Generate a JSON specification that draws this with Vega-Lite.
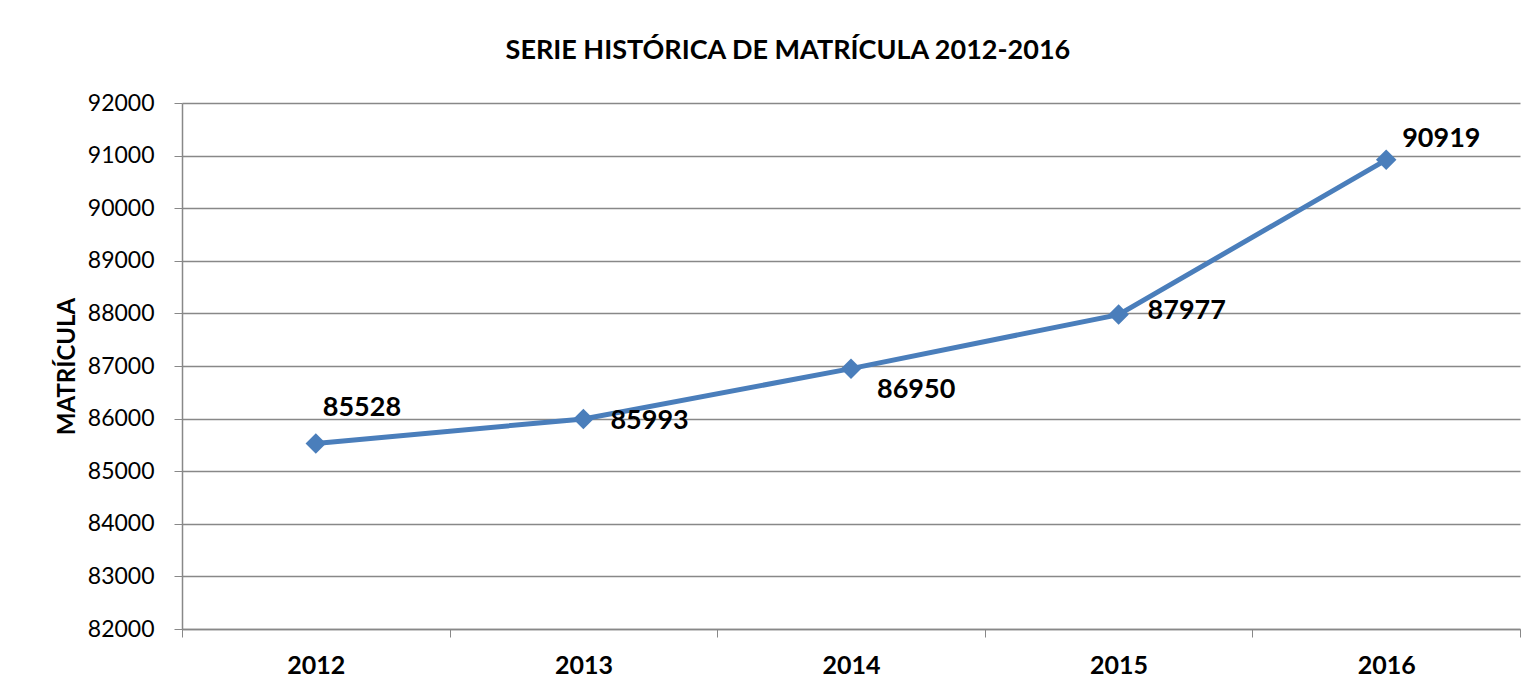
{
  "$schema": "https://vega.github.io/schema/vega-lite/v6.json",
  "autosize": {"type": "none"},
  "width": 1338,
  "height": 526,
  "padding": {"left": 182, "top": 103, "right": 8, "bottom": 66},
  "background": "white",
  "config": {
    "font": "Lato",
    "view": {"stroke": null},
    "axis": {"labelFont": "Lato", "titleFont": "Lato", "labelColor": "black", "titleColor": "black"}
  },
  "title": {
    "text": "SERIE HISTÓRICA DE MATRÍCULA 2012-2016",
    "font": "Lato",
    "fontSize": 27,
    "fontWeight": "bold",
    "color": "black",
    "anchor": "middle",
    "frame": "bounds",
    "offset": 27
  },
  "data": {
    "values": [
      {"year": 2012, "matricula": 85528},
      {"year": 2013, "matricula": 85993},
      {"year": 2014, "matricula": 86950},
      {"year": 2015, "matricula": 87977},
      {"year": 2016, "matricula": 90919}
    ]
  },
  "encoding": {
    "x": {
      "field": "year",
      "type": "quantitative",
      "scale": {"domain": [2011.5, 2016.5], "nice": false, "zero": false},
      "axis": null
    },
    "y": {
      "field": "matricula",
      "type": "quantitative",
      "scale": {"domain": [82000, 92000], "nice": false, "zero": false},
      "axis": {
        "values": [82000, 83000, 84000, 85000, 86000, 87000, 88000, 89000, 90000, 91000, 92000],
        "format": "d",
        "title": "MATRÍCULA",
        "titleFontSize": 24,
        "titleFontWeight": "bold",
        "titlePadding": 8,
        "labelFontSize": 23,
        "labelFontWeight": "normal",
        "labelPadding": 20,
        "tickSize": 8,
        "tickColor": "#888888",
        "domainColor": "#888888",
        "domainWidth": 1.5,
        "gridColor": "#888888",
        "gridWidth": 1.5,
        "grid": true
      }
    }
  },
  "resolve": {"axis": {"x": "independent"}},
  "layer": [
    {
      "mark": {"type": "line", "color": "#4a7ebb", "strokeWidth": 5},
      "encoding": {
        "x": {
          "field": "year",
          "type": "quantitative",
          "axis": {
            "orient": "bottom",
            "values": [2011.5, 2012.5, 2013.5, 2014.5, 2015.5, 2016.5],
            "labels": false,
            "title": null,
            "grid": false,
            "tickSize": 8,
            "tickColor": "#888888",
            "domainColor": "#888888",
            "domainWidth": 1.5
          }
        }
      }
    },
    {
      "mark": {"type": "point", "shape": "diamond", "filled": true, "color": "#4a7ebb", "size": 420, "opacity": 1},
      "encoding": {
        "x": {
          "field": "year",
          "type": "quantitative",
          "axis": {
            "orient": "bottom",
            "values": [2012, 2013, 2014, 2015, 2016],
            "format": "d",
            "title": null,
            "grid": false,
            "ticks": false,
            "domain": false,
            "labelFontSize": 25,
            "labelFontWeight": "bold",
            "labelPadding": 24
          }
        }
      }
    },
    {
      "transform": [{"filter": "datum.year == 2012"}],
      "mark": {"type": "text", "align": "left", "baseline": "middle", "fontSize": 27, "fontWeight": "bold", "color": "black", "dx": 7, "dy": -35},
      "encoding": {"text": {"field": "matricula", "type": "quantitative", "format": "d"}}
    },
    {
      "transform": [{"filter": "datum.year == 2013"}],
      "mark": {"type": "text", "align": "left", "baseline": "middle", "fontSize": 27, "fontWeight": "bold", "color": "black", "dx": 27, "dy": 2},
      "encoding": {"text": {"field": "matricula", "type": "quantitative", "format": "d"}}
    },
    {
      "transform": [{"filter": "datum.year == 2014"}],
      "mark": {"type": "text", "align": "left", "baseline": "middle", "fontSize": 27, "fontWeight": "bold", "color": "black", "dx": 26, "dy": 21},
      "encoding": {"text": {"field": "matricula", "type": "quantitative", "format": "d"}}
    },
    {
      "transform": [{"filter": "datum.year == 2015"}],
      "mark": {"type": "text", "align": "left", "baseline": "middle", "fontSize": 27, "fontWeight": "bold", "color": "black", "dx": 29, "dy": -4},
      "encoding": {"text": {"field": "matricula", "type": "quantitative", "format": "d"}}
    },
    {
      "transform": [{"filter": "datum.year == 2016"}],
      "mark": {"type": "text", "align": "left", "baseline": "middle", "fontSize": 27, "fontWeight": "bold", "color": "black", "dx": 16, "dy": -21},
      "encoding": {"text": {"field": "matricula", "type": "quantitative", "format": "d"}}
    }
  ]
}
